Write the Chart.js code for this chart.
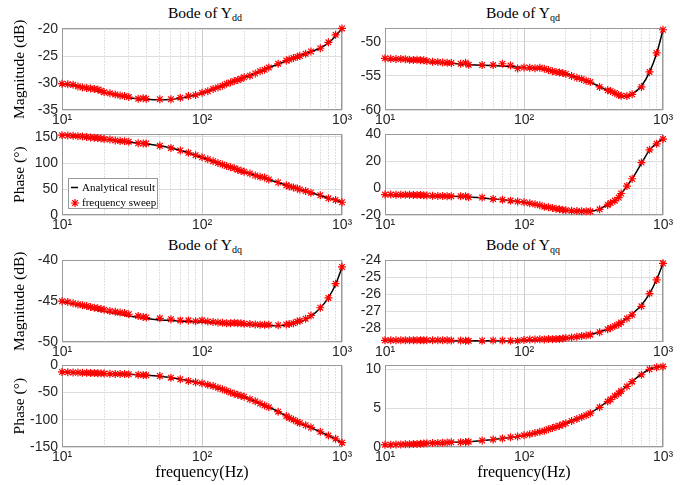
<!DOCTYPE html>
<html>
<head>
<meta charset="utf-8">
<script src="https://cdn.jsdelivr.net/npm/chart.js@4.4.0/dist/chart.umd.min.js"></script>
<style>
  body { margin: 0; background: #fff; }
  #wrap { position: relative; width: 684px; height: 485px; overflow: hidden; }
  canvas { position: absolute; }
  .ttl { position: absolute; font-family: "Liberation Serif", serif; font-size: 15.5px; color: #000;
         white-space: nowrap; transform: translateX(-50%); line-height: 18px; }
  .ttl sub { font-size: 10px; vertical-align: -3px; line-height: 0; }
</style>
</head>
<body>
<div id="wrap">
  <div class="ttl" style="left:205px;top:4px">Bode of Y<sub>dd</sub></div>
  <div class="ttl" style="left:523px;top:4px">Bode of Y<sub>qd</sub></div>
  <div class="ttl" style="left:205px;top:236px">Bode of Y<sub>dq</sub></div>
  <div class="ttl" style="left:523px;top:236px">Bode of Y<sub>qq</sub></div>

  <canvas id="yddMag" width="360" height="116" style="left:0;top:16px"></canvas>
  <canvas id="yddPh" width="360" height="115" style="left:0;top:122px"></canvas>
  <canvas id="ydqMag" width="360" height="116" style="left:0;top:248px"></canvas>
  <canvas id="ydqPh" width="360" height="129" style="left:0;top:353px"></canvas>

  <canvas id="yqdMag" width="344" height="116" style="left:340px;top:16px"></canvas>
  <canvas id="yqdPh" width="344" height="115" style="left:340px;top:122px"></canvas>
  <canvas id="yqqMag" width="344" height="116" style="left:340px;top:248px"></canvas>
  <canvas id="yqqPh" width="344" height="129" style="left:340px;top:353px"></canvas>
</div>
<script>
// frequencies (Hz)
const lineFreq = [10,12,15,20,25,30,40,50,60,70,80,100,120,150,200,250,300,350,400,450,500,550,600,700,800,900,1000];
const sweepFreq = [10,11,12,13,14,15,16,17,18,19,20,22,24,26,28,30,35,38,40,50,60,70,80,90,100,
  110,120,130,140,150,160,170,180,190,200,220,240,260,280,300,350,400,420,450,480,500,550,600,700,800,900,1000];

// x grid / tick labels
const xGridValues = [10,20,30,40,50,60,70,80,90,100,200,300,400,500,600,700,800,900,1000];
const xTickValues = [10,100,1000];
const xTickText = ['10¹','10²','10³'];

// Y_dd
const yddMagLine = [-30.1,-30.4,-30.9,-31.8,-32.3,-32.7,-33.0,-33.1,-33.05,-32.8,-32.5,-31.9,-31.1,-30.1,-28.9,-27.95,-27.1,-26.45,-25.85,-25.35,-24.9,-24.5,-24.15,-23.45,-22.5,-21.2,-19.8];
const yddMagSweep = [-30.1,-30.2,-30.3,-30.6,-30.8,-30.9,-31.0,-31.1,-31.2,-31.4,-31.7,-31.9,-32.1,-32.3,-32.4,-32.6,-32.9,-32.8,-32.9,
  -33.0,-33.0,-32.7,-32.4,-32.2,-31.8,-31.5,-31.1,-30.8,-30.5,-30.1,-29.9,-29.6,-29.4,-29.2,-28.9,-28.6,-28.2,-27.8,-27.5,-27.1,
  -26.4,-25.8,-25.6,-25.3,-25.1,-24.9,-24.5,-24.1,-23.5,-22.4,-21.0,-19.8];
const yddPhLine = [154,152.5,149.4,145.6,142.5,140,136.9,133,128.8,124.4,119.4,110.6,103,94.4,83,75,68,62.5,57.5,53,49.4,45.6,42.5,37.5,32.5,29,24.5];
const yddPhSweep = [153.5,153,152.5,151.5,151,150,149,148.5,148,147,146,145,143.5,142.5,142,141,138,137.5,137.5,
  133,129,124,119.5,115,111,107,103.5,100,97,94,92,90,87,85,83,80,76,73.5,72,68.5,
  62.5,57,55,53,51,49,46,43,38,32,29,24.5];

// Y_qd
const yqdMagLine = [-52.43,-52.5,-52.67,-52.86,-53.05,-53.14,-53.33,-53.43,-53.48,-53.52,-53.62,-53.76,-53.86,-54.14,-54.67,-55.29,-55.9,-56.57,-57.14,-57.6,-57.9,-58.0,-57.67,-56.48,-54.43,-51.7,-48.2];
const yqdMagSweep = [-52.4,-52.45,-52.5,-52.5,-52.55,-52.6,-52.65,-52.6,-52.7,-52.7,-52.8,-52.9,-52.95,-53.0,-53.05,-53.1,-53.2,-53.05,-53.35,
  -53.4,-53.4,-53.2,-53.45,-53.9,-53.75,-53.8,-53.85,-53.8,-53.95,-54.1,-54.3,-54.4,-54.5,-54.55,-54.7,-55.0,-55.25,-55.45,-55.7,-55.9,
  -56.6,-57.1,-57.2,-57.5,-57.8,-57.9,-57.95,-57.7,-56.6,-54.4,-51.6,-48.2];
const yqdPhLine = [-4.9,-4.9,-5.1,-5.6,-5.9,-6.1,-6.6,-7.3,-8.0,-8.5,-9.3,-10.5,-12.2,-14.4,-16.3,-17.1,-17.1,-15.6,-12.2,-9.0,-4.1,1.5,7.0,18.5,28.3,33.5,36.8];
const yqdPhSweep = [-4.8,-4.8,-4.9,-4.9,-5.0,-5.0,-5.1,-5.1,-5.2,-5.3,-5.5,-5.7,-5.8,-5.9,-6.0,-6.0,-6.0,-6.0,-6.8,
  -7.0,-8.0,-8.6,-9.3,-10.0,-10.5,-11.3,-12.0,-12.8,-13.8,-14.3,-14.8,-15.4,-15.8,-16.1,-16.4,-16.8,-17.1,-17.3,-17.2,-17.3,
  -15.8,-12.5,-11.0,-9.3,-7.0,-4.0,1.5,7.0,19.0,28.5,33.0,36.5];

// Y_dq
const ydqMagLine = [-45.0,-45.36,-45.76,-46.24,-46.57,-46.8,-47.13,-47.29,-47.37,-47.45,-47.49,-47.57,-47.65,-47.77,-47.85,-47.93,-48.0,-48.0,-47.93,-47.77,-47.53,-47.25,-46.85,-45.84,-44.56,-42.95,-40.86];
const ydqMagSweep = [-45.0,-45.1,-45.25,-45.4,-45.5,-45.6,-45.7,-45.8,-45.85,-45.95,-46.05,-46.2,-46.3,-46.4,-46.45,-46.6,-46.8,-46.95,-47.0,
  -47.1,-47.2,-47.35,-47.35,-47.45,-47.35,-47.5,-47.55,-47.6,-47.65,-47.7,-47.7,-47.65,-47.7,-47.7,-47.75,-47.8,-47.85,-47.9,-47.9,-47.9,
  -47.95,-47.85,-47.8,-47.7,-47.5,-47.4,-47.15,-46.75,-45.8,-44.6,-42.85,-40.8];
const ydqPhLine = [-12,-13.3,-13.9,-15,-15.7,-16.3,-18,-19.9,-22.3,-25.3,-27.7,-33.1,-38,-46.4,-57.8,-68,-76.5,-85,-93.4,-100.6,-106.6,-110.8,-114.5,-122.3,-129,-135.5,-142.2];
const ydqPhSweep = [-12,-12.5,-13,-13.2,-13.5,-13.7,-14,-14.2,-14.4,-14.6,-15,-15.3,-15.6,-15.8,-16,-16.3,-17,-17.5,-18,
  -19.5,-22.5,-25.5,-28.5,-31,-33,-35.5,-38,-41,-44,-46.5,-50,-52,-54,-56,-57.5,-62,-66,-70,-73.5,-77,
  -85,-93,-96.5,-100,-103.5,-106,-110,-114,-122,-129,-135,-142];

// Y_qq
const yqqMagLine = [-28.7,-28.71,-28.72,-28.72,-28.72,-28.73,-28.73,-28.73,-28.73,-28.73,-28.72,-28.7,-28.68,-28.64,-28.57,-28.47,-28.36,-28.2,-28.04,-27.85,-27.64,-27.4,-27.15,-26.62,-25.95,-25.12,-24.18];
const yqqMagSweep = [-28.7,-28.7,-28.7,-28.7,-28.7,-28.7,-28.69,-28.69,-28.69,-28.69,-28.7,-28.7,-28.7,-28.7,-28.7,-28.71,-28.71,-28.73,-28.73,
  -28.72,-28.71,-28.71,-28.72,-28.72,-28.68,-28.66,-28.66,-28.64,-28.65,-28.63,-28.64,-28.62,-28.62,-28.6,-28.57,-28.53,-28.49,-28.45,-28.42,-28.37,
  -28.22,-28.05,-27.98,-27.86,-27.75,-27.65,-27.42,-27.2,-26.7,-25.95,-25.15,-24.17];
const yqqPhLine = [0.3,0.34,0.38,0.46,0.55,0.6,0.68,0.84,0.97,1.1,1.22,1.52,1.81,2.28,3.08,3.76,4.39,5.15,5.9,6.58,7.26,7.85,8.44,9.37,10.0,10.3,10.42];
const yqqPhSweep = [0.3,0.3,0.32,0.33,0.35,0.36,0.38,0.4,0.42,0.45,0.48,0.5,0.52,0.55,0.57,0.6,0.62,0.65,0.68,
  0.85,0.95,1.1,1.25,1.35,1.5,1.65,1.8,1.95,2.1,2.3,2.45,2.6,2.75,2.9,3.05,3.35,3.6,3.85,4.1,4.35,
  5.1,5.85,6.1,6.55,6.9,7.2,7.8,8.4,9.3,10.0,10.25,10.35];

// y tick labels
const yddMagTicks = [-35,-30,-25,-20];
const yddPhTicks = [0,50,100,150];
const yqdMagTicks = [-60,-55,-50];
const yqdPhTicks = [-20,0,20,40];
const ydqMagTicks = [-50,-45,-40];
const ydqPhTicks = [-150,-100,-50,0];
const yqqMagTicks = [-28,-27,-26,-25,-24];
const yqqPhTicks = [0,5,10];

const tickFont = { family: 'Liberation Sans', size: 14 };
const serif = 'Liberation Serif';

// box round the plot area
const boxPlugin = {
  id: 'box',
  beforeDatasetsDraw(chart) {
    const a = chart.chartArea, ctx = chart.ctx;
    ctx.save();
    ctx.strokeStyle = '#9a9a9a';
    ctx.lineWidth = 1;
    ctx.strokeRect(Math.round(a.left) + 0.5, Math.round(a.top) + 0.5, Math.round(a.right - a.left) - 1, Math.round(a.bottom - a.top) - 1);
    ctx.restore();
  }
};

// legend inside the Y_dd phase plot
const legendPlugin = {
  id: 'inLegend',
  afterDatasetsDraw(chart) {
    const a = chart.chartArea, ctx = chart.ctx;
    const x = Math.round(a.left) + 6, y = Math.round(a.bottom) - 37;
    ctx.save();
    ctx.fillStyle = '#fff';
    ctx.strokeStyle = '#9a9a9a';
    ctx.lineWidth = 1;
    ctx.fillRect(x + 0.5, y + 0.5, 89, 30);
    ctx.strokeRect(x + 0.5, y + 0.5, 89, 30);
    ctx.strokeStyle = '#000';
    ctx.lineWidth = 1.5;
    ctx.beginPath(); ctx.moveTo(x + 3, y + 9.5); ctx.lineTo(x + 10, y + 9.5); ctx.stroke();
    // asterisk
    const sx = x + 7, sy = y + 25, r = 4, d = r * 0.707;
    ctx.strokeStyle = '#ff0000';
    ctx.lineWidth = 1.2;
    ctx.beginPath();
    ctx.moveTo(sx - r, sy); ctx.lineTo(sx + r, sy);
    ctx.moveTo(sx, sy - r); ctx.lineTo(sx, sy + r);
    ctx.moveTo(sx - d, sy - d); ctx.lineTo(sx + d, sy + d);
    ctx.moveTo(sx - d, sy + d); ctx.lineTo(sx + d, sy - d);
    ctx.stroke();
    ctx.fillStyle = '#000';
    ctx.font = '11px "Liberation Serif"';
    ctx.textBaseline = 'middle';
    ctx.fillText(chart.data.datasets[0].label, x + 14, y + 10);
    ctx.fillText(chart.data.datasets[1].label, x + 14, y + 25.5);
    ctx.restore();
  }
};

function makePanel(id, lineVals, sweepVals, yMin, yMax, yTicks, yTitle, leftCol, bottomRow, withLegend) {
  new Chart(document.getElementById(id), {
    type: 'line',
    data: {
      datasets: [
        {
          label: 'Analytical result',
          data: lineFreq.map((f, i) => ({ x: f, y: lineVals[i] })),
          borderColor: '#000',
          borderWidth: 1.5,
          pointRadius: 0,
          cubicInterpolationMode: 'monotone',
          order: 1
        },
        {
          label: 'frequency sweep',
          data: sweepFreq.map((f, i) => ({ x: f, y: sweepVals[i] })),
          showLine: false,
          pointStyle: 'star',
          pointRadius: 4,
          pointBorderWidth: 1.2,
          pointBorderColor: '#ff0000',
          borderColor: '#ff0000',
          clip: false,
          order: 0
        }
      ]
    },
    options: {
      responsive: false,
      animation: false,
      devicePixelRatio: 1,
      layout: { padding: { left: 0, right: leftCol ? 18 : 21, top: 10, bottom: 0 } },
      plugins: { legend: { display: false }, tooltip: { enabled: false } },
      scales: {
        x: {
          type: 'logarithmic',
          min: 10, max: 1000,
          afterBuildTicks: ax => { ax.ticks = xGridValues.map(v => ({ value: v })); },
          afterFit: ax => { ax.height = bottomRow ? 35 : 22; },
          ticks: {
            autoSkip: false, maxRotation: 0, padding: 2, font: tickFont, color: '#262626',
            callback: v => { const k = xTickValues.indexOf(v); return k >= 0 ? xTickText[k] : ''; }
          },
          grid: {
            drawTicks: false,
            color: c => (c.tick && xTickValues.includes(c.tick.value)) ? 'rgba(0,0,0,0)' : '#c2c2c2'
          },
          border: { display: false, dash: [1, 2] },
          title: {
            display: bottomRow, text: 'frequency(Hz)',
            font: { family: serif, size: 16 }, color: '#000', padding: { top: 0, bottom: 0 }
          }
        },
        xMajor: {
          type: 'logarithmic',
          position: 'bottom',
          min: 10, max: 1000,
          afterBuildTicks: ax => { ax.ticks = xTickValues.map(v => ({ value: v })); },
          afterFit: ax => { ax.height = 0; },
          ticks: { display: false },
          grid: { drawTicks: false, color: '#cdcdcd' },
          border: { display: false }
        },
        y: {
          min: yMin, max: yMax,
          afterBuildTicks: ax => { ax.ticks = yTicks.map(v => ({ value: v })); },
          afterFit: ax => { ax.width = leftCol ? 62 : 45; },
          ticks: { padding: 4, font: tickFont, color: '#262626' },
          grid: { drawTicks: false, color: '#dddddd' },
          border: { display: false },
          title: {
            display: !!yTitle, text: yTitle || '',
            font: { family: serif, size: 15.5 }, color: '#000', padding: { top: 11, bottom: 0 }
          }
        }
      }
    },
    plugins: withLegend ? [boxPlugin, legendPlugin] : [boxPlugin]
  });
}

makePanel('yddMag', yddMagLine, yddMagSweep, -35, -19.8, yddMagTicks, 'Magnitude (dB)', true, false, false);
makePanel('yddPh', yddPhLine, yddPhSweep, 0, 155, yddPhTicks, 'Phase (°)', true, false, true);
makePanel('ydqMag', ydqMagLine, ydqMagSweep, -50, -40, ydqMagTicks, 'Magnitude (dB)', true, false, false);
makePanel('ydqPh', ydqPhLine, ydqPhSweep, -150, 0, ydqPhTicks, 'Phase (°)', true, true, false);

makePanel('yqdMag', yqdMagLine, yqdMagSweep, -60, -48, yqdMagTicks, null, false, false, false);
makePanel('yqdPh', yqdPhLine, yqdPhSweep, -20, 40, yqdPhTicks, null, false, false, false);
makePanel('yqqMag', yqqMagLine, yqqMagSweep, -28.8, -24, yqqMagTicks, null, false, false, false);
makePanel('yqqPh', yqqPhLine, yqqPhSweep, 0, 10.5, yqqPhTicks, null, false, true, false);
</script>
</body>
</html>
